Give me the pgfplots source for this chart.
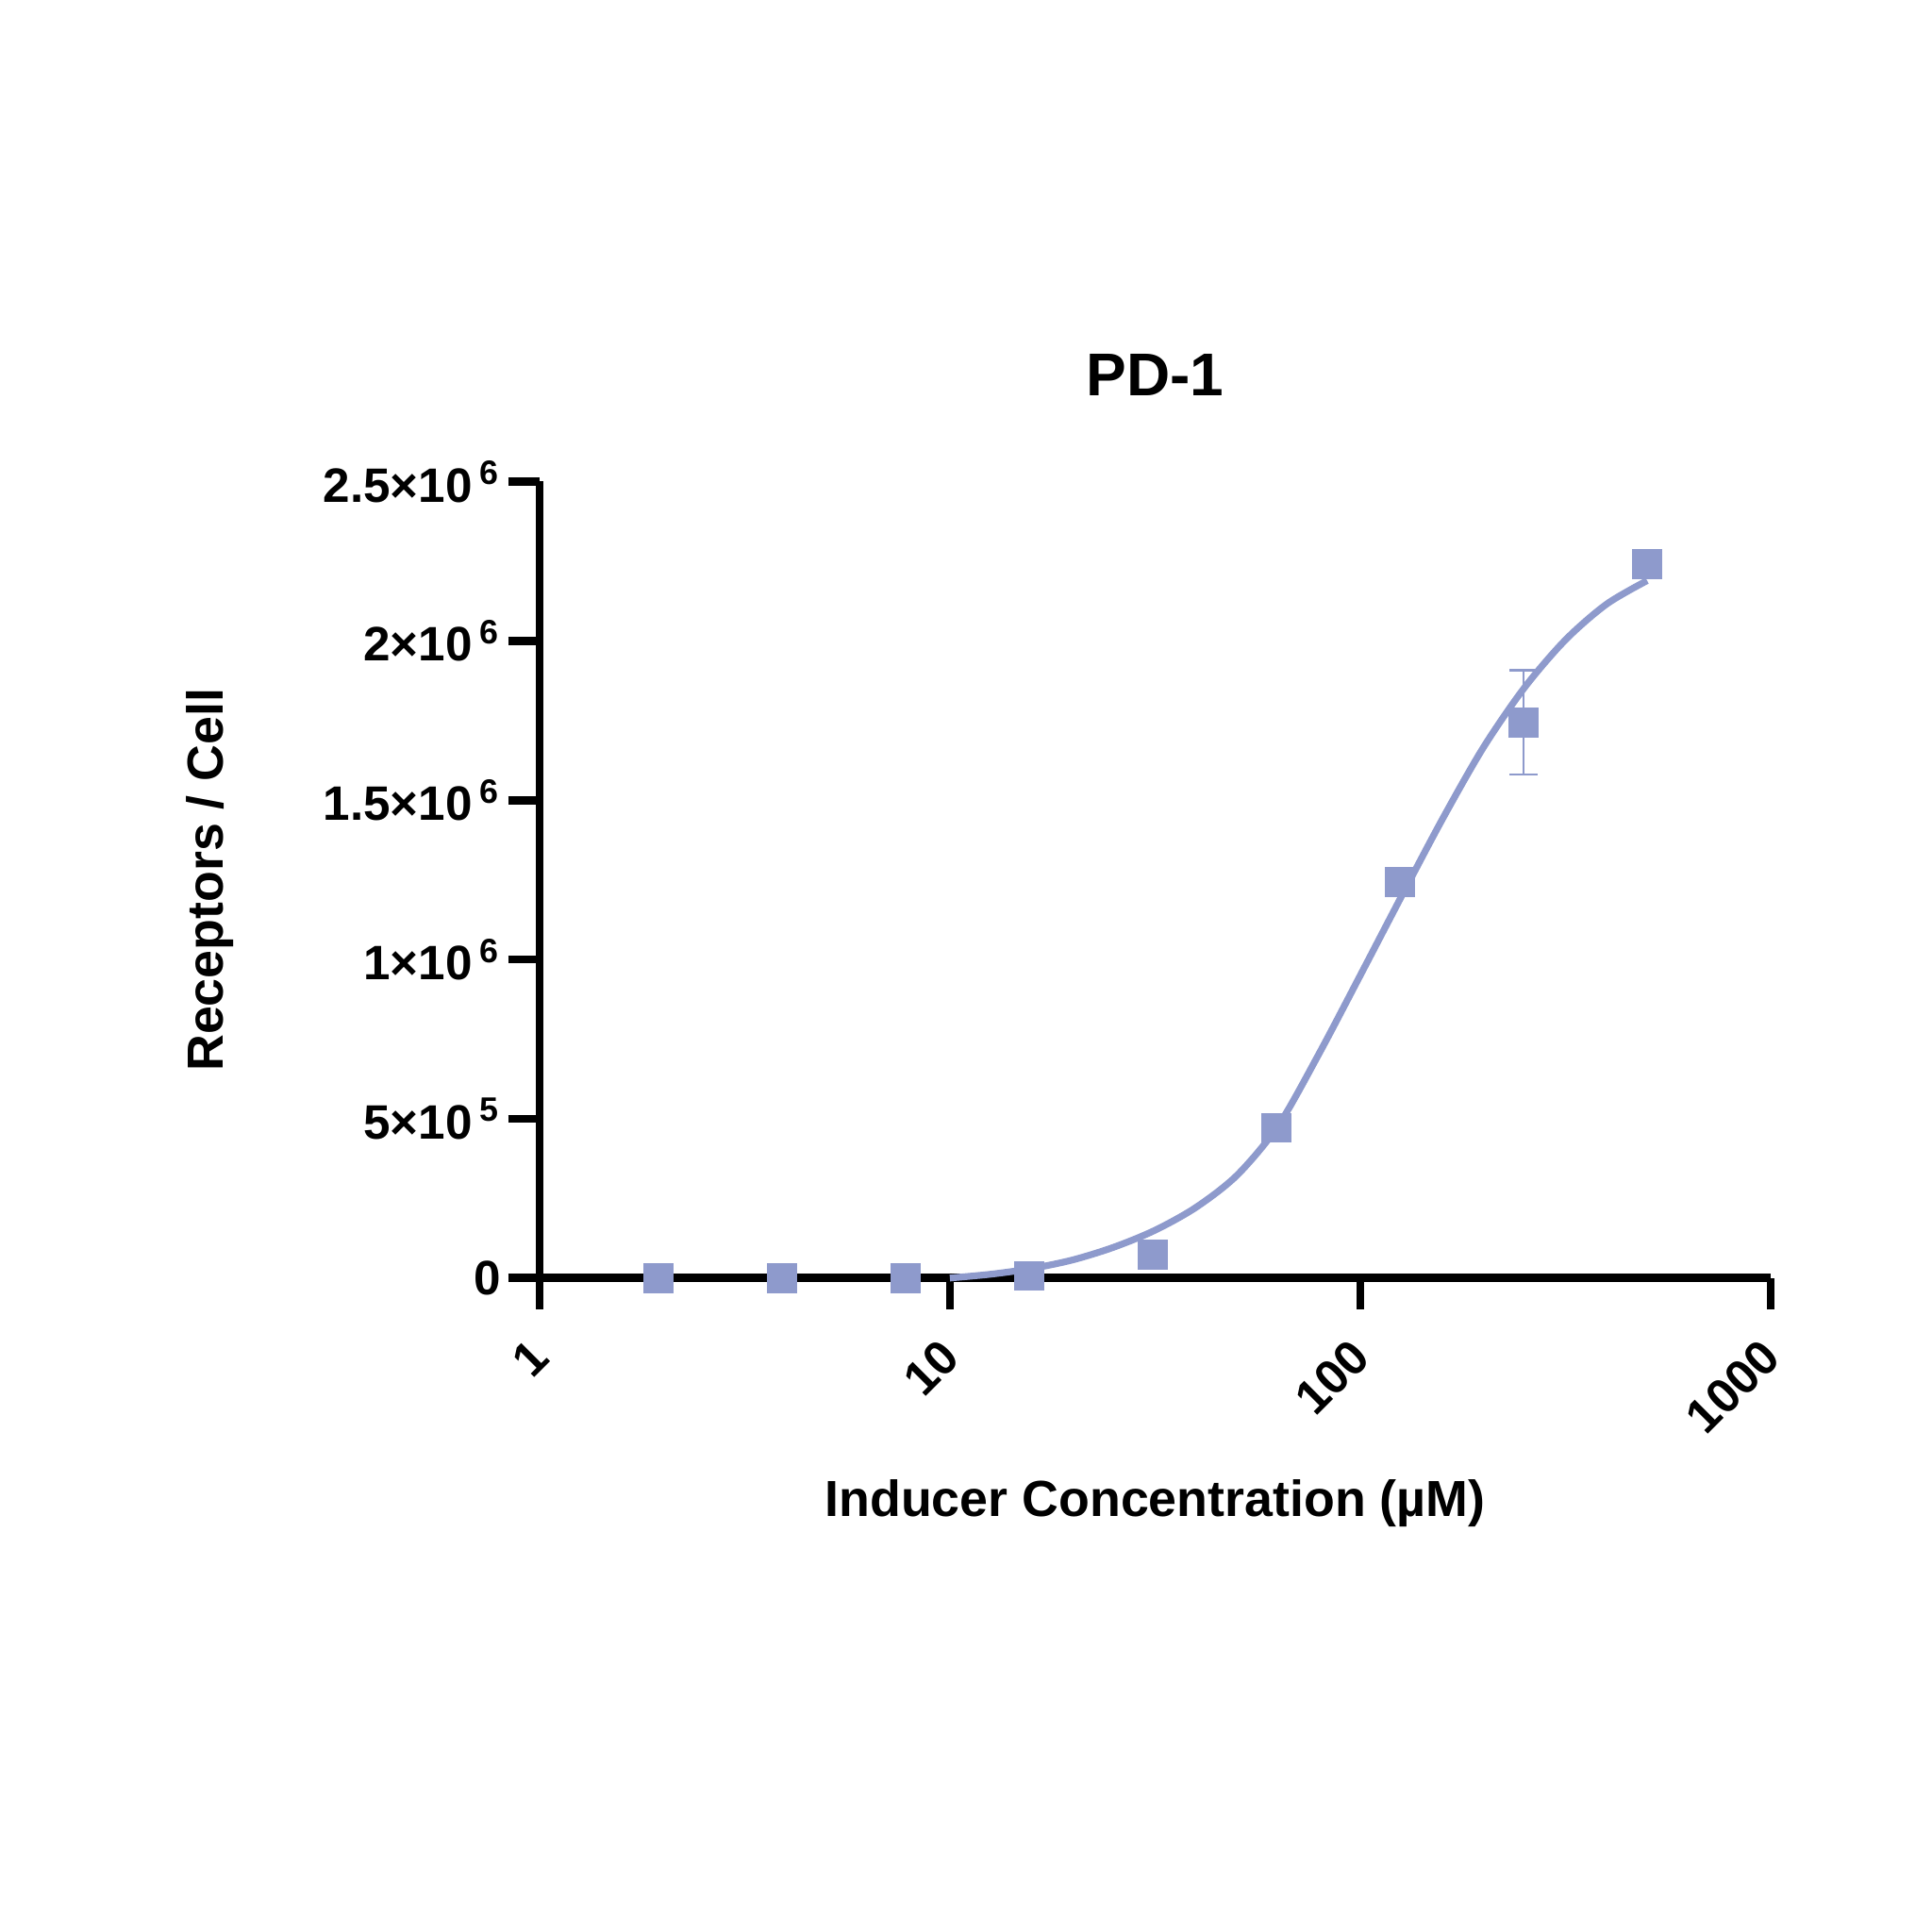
\documentclass[border=0pt]{standalone}
\usepackage{fontspec}
\setmainfont{Liberation Sans}
\usepackage{pgfplots}
\pgfplotsset{compat=1.18}
\definecolor{pdc}{RGB}{142,154,204}
\newcommand{\sci}[2]{#1×10\kern1.5pt\textsuperscript{#2}}

\begin{document}
\begin{tikzpicture}
\useasboundingbox (0,0) rectangle (400pt,400pt);
\begin{axis}[
  at={(111.7pt,135.4pt)}, anchor=south west,
  scale only axis, width=254.9pt, height=164.9pt,
  xmode=log, xmin=1, xmax=1000, ymin=0, ymax=2500000,
  clip=false,
  axis lines*=left,
  axis line style={line width=1.7pt, black},
  every tick/.style={line width=1.7pt, black},
  tick align=outside, major tick length=6.5pt,
  xminorticks=false,
  xtick={1,10,100,1000}, xticklabels={1,10,100,1000},
  ytick={0,500000,1000000,1500000,2000000,2500000},
  yticklabels={0,\sci{5}{5},\sci{1}{6},\sci{1.5}{6},\sci{2}{6},\sci{2.5}{6}},
  scaled y ticks=false,
  tick label style={font=\bfseries\fontsize{10}{12}\selectfont},
  xticklabel style={xshift=2.5pt, yshift=-5.6pt, rotate=45, anchor=east},
  yticklabel style={xshift=2pt},
  title={PD-1},
  title style={font=\bfseries\fontsize{12.5}{15}\selectfont, at={(axis description cs:0.5,1.098)}, anchor=center},
  xlabel={Inducer Concentration (µM)},
  xlabel style={font=\bfseries\fontsize{10.5}{12}\selectfont, at={(axis description cs:0.5,-0.283)}, anchor=center},
  ylabel={Receptors / Cell},
  ylabel style={font=\bfseries\fontsize{10.5}{12}\selectfont, at={(axis description cs:-0.268,0.5)}, anchor=center},
]
% fitted curve
\addplot[pdc, line width=1.4pt, smooth, mark=none] coordinates {
(10,0) (12.59,12000) (15.85,30000) (19.95,57000) (25.12,97000) (31.62,150000)
(39.81,222000) (50.12,323000) (63.1,478000) (79.43,705000) (100,950000)
(125.9,1197000) (158.5,1440000) (199.5,1665000) (251.2,1853000)
(316.2,2003000) (398.1,2115000) (500,2189000)
};
% error bar
\addplot[pdc, only marks, mark=none,
  error bars/.cd, y dir=both, y explicit,
  error bar style={line width=0.5pt, pdc},
  error mark options={rotate=90, mark size=2.9pt, line width=0.5pt, pdc}]
coordinates {(250,1744000) +- (0,164000)};
% data points
\addplot[only marks, mark=square*, mark size=3pt,
  mark options={fill=pdc, draw=pdc, line width=0.2pt}] coordinates {
(1.953,0) (3.906,0) (7.8125,0) (15.625,7000) (31.25,73500)
(62.5,471600) (125,1243000) (250,1744000) (500,2241000)
};
\end{axis}
\end{tikzpicture}
\end{document}
